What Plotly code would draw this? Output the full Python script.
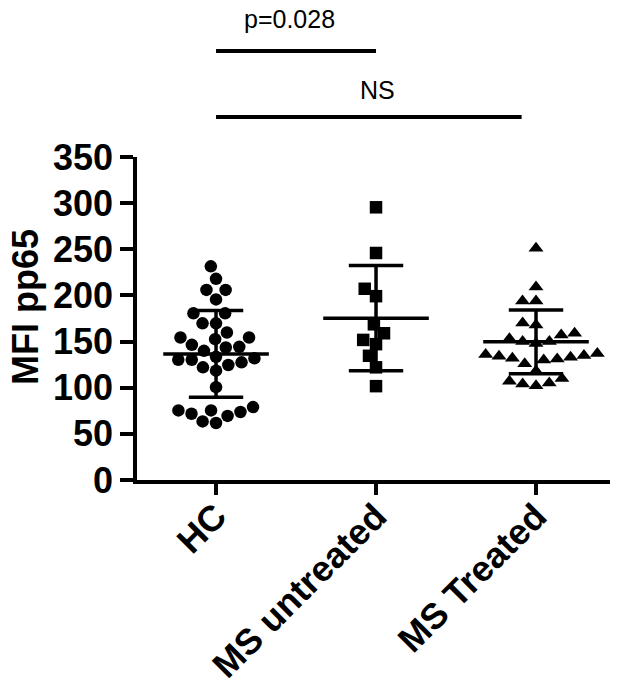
import numpy as np
import plotly.graph_objects as go

categories = ["HC", "MS untreated", "MS Treated"]

hc_values = [231.5, 218, 206, 206, 195.7, 180.6, 180.6, 169.8, 169.8, 159.8, 154.4,
             152.6, 154.4, 143.6, 146.5, 144.3, 140, 133.5, 130.3, 127.5, 130.3, 131.8,
             122.1, 124.6, 118.5, 100.6, 75.4, 73.7, 69.4, 61.8, 63.5, 71.8, 75.4, 79]
ms_untreated_values = [295.5, 246, 207.2, 199.2, 168.7, 159, 147.2, 151.8, 134.6, 122.1, 101.7]
ms_treated_values = [251, 209, 194, 194, 170, 168, 159, 157, 153, 150, 150, 148, 137, 136,
                     135, 134, 133, 132, 131, 130, 126, 118, 110, 107, 105, 104, 102]

group_means = [136.6, 175.4, 149.7]
group_sds = [47.0, 56.9, 34.5]

comparisons = [  # (from, to, label, label centre)
    (0, 1.0, "p=0.028", 0.46),
    (0, 1.91, "NS", 1.01),
]

y_title = "MFI pp65"

# ---------- geometry ----------
W, H = 624, 679
ML, MR, MT, MB = 137, 14, 157, 199
XR = [-0.494, 2.4625]
YR = [0, 350]
plot_w = W - ML - MR
plot_h = H - MT - MB
px_per_x = plot_w / (XR[1] - XR[0])
px_per_y = plot_h / (YR[1] - YR[0])


def swarm_offsets(vals, diam):
    vals = np.asarray(vals, float)
    order = np.argsort(vals)
    placed = []
    offs = np.zeros(len(vals))
    for i in order:
        y = vals[i] * px_per_y
        forb = []
        for (px, py) in placed:
            dy = abs(y - py)
            if dy < diam:
                w = np.sqrt(diam * diam - dy * dy)
                forb.append((px - w, px + w))
        cands = [0.0] + [a for a, b in forb] + [b for a, b in forb]
        cands.sort(key=lambda c: (abs(c), c))
        chosen = 0.0
        for c in cands:
            if all(not (a + 1e-6 < c < b - 1e-6) for a, b in forb):
                chosen = c
                break
        placed.append((chosen, y))
        offs[i] = chosen / px_per_x
    return offs


fig = go.Figure()
groups = [hc_values, ms_untreated_values, ms_treated_values]
symbols = ["circle", "square", "triangle-up"]
msizes = [12.5, 12.5, 13]
diams = [13.5, 13.5, 13.5]

for gi, (vals, sym, ms, d) in enumerate(zip(groups, symbols, msizes, diams)):
    offs = swarm_offsets(vals, d)
    fig.add_trace(go.Scatter(
        x=gi + offs, y=vals, mode="markers",
        marker=dict(symbol=sym, size=ms, color="black", line=dict(width=0)),
        hoverinfo="y", showlegend=False))

# mean and SD bars
MEAN_HALF = 0.33
CAP_HALF = 0.17
for gi, (m, s) in enumerate(zip(group_means, group_sds)):
    xs = [gi - MEAN_HALF, gi + MEAN_HALF, None,
          gi - CAP_HALF, gi + CAP_HALF, None,
          gi - CAP_HALF, gi + CAP_HALF, None,
          gi, gi]
    ys = [m, m, None, m + s, m + s, None, m - s, m - s, None, m + s, m - s]
    fig.add_trace(go.Scatter(x=xs, y=ys, mode="lines",
                             line=dict(color="black", width=3.5),
                             hoverinfo="skip", showlegend=False))


def xpaper(xd):
    return (xd - XR[0]) / (XR[1] - XR[0])


def xpaper_px(px):
    return (px - ML) / plot_w


def ypaper_px(py):
    return (H - MB - py) / plot_h


line_px = [51, 117]
text_px = [19, 90]
for (a, b, lab, c), lp, tp in zip(comparisons, line_px, text_px):
    fig.add_shape(type="line", xref="paper", yref="paper",
                  x0=xpaper(a), x1=xpaper(b), y0=ypaper_px(lp), y1=ypaper_px(lp),
                  line=dict(color="black", width=4))
    fig.add_annotation(xref="paper", yref="paper", x=xpaper(c),
                       y=ypaper_px(tp), text=lab, showarrow=False,
                       font=dict(family="Liberation Sans, Arial", size=25, color="black"),
                       xanchor="center", yanchor="middle")

axis_font = dict(family="Liberation Sans, Arial", size=36, color="black", weight="bold")

# y-axis title as rotated text
fig.add_annotation(xref="paper", yref="paper", x=xpaper_px(25), y=ypaper_px(307),
                   text=y_title, textangle=-90, showarrow=False, font=axis_font,
                   xanchor="center", yanchor="middle")

fig.update_layout(
    width=W, height=H,
    margin=dict(l=ML, r=MR, t=MT, b=MB, autoexpand=False),
    plot_bgcolor="white", paper_bgcolor="white",
    showlegend=False,
    xaxis=dict(range=XR, tickvals=[0, 1, 2], ticktext=categories, tickangle=-45,
               showline=True, linewidth=3.5, linecolor="black", mirror=False,
               ticks="outside", ticklen=11, tickwidth=3.5, tickcolor="black",
               showgrid=False, zeroline=False, tickfont=axis_font, automargin=False,
               ticklabelstandoff=-14),
    yaxis=dict(range=YR, tickvals=list(range(0, 351, 50)),
               showline=True, linewidth=3.5, linecolor="black",
               ticks="outside", ticklen=13, tickwidth=3.5, tickcolor="black",
               showgrid=False, zeroline=False, tickfont=axis_font, automargin=False),
)

fig.write_html("out.html", config={"displayModeBar": False},
               post_script="document.body.style.margin='0';document.body.style.overflow='hidden';")
